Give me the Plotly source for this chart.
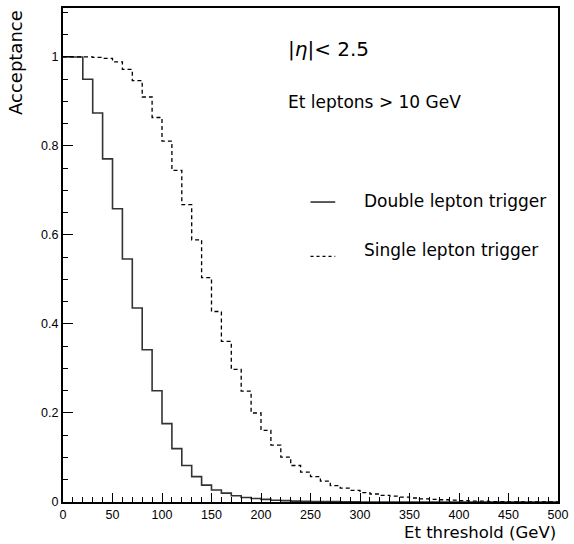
import plotly.graph_objects as go

# Bin edges (GeV) and per-bin acceptance values
bin_edges = list(range(0, 510, 10))
double_lepton = [1.0, 1.0, 0.950, 0.874, 0.771, 0.659, 0.546, 0.436, 0.342, 0.250,
                 0.176, 0.120, 0.082, 0.057, 0.038, 0.027, 0.020, 0.014, 0.010, 0.008,
                 0.006, 0.004, 0.003, 0.002, 0.0015, 0.001, 0.001, 0.0008, 0.0005, 0.0003,
                 0, 0, 0, 0, 0, 0, 0, 0, 0, 0,
                 0, 0, 0, 0, 0, 0, 0, 0, 0, 0]
single_lepton = [1.0, 1.0, 1.0, 0.999, 0.997, 0.989, 0.972, 0.947, 0.910, 0.864,
                 0.811, 0.745, 0.668, 0.589, 0.504, 0.428, 0.361, 0.298, 0.249, 0.200,
                 0.161, 0.128, 0.101, 0.082, 0.067, 0.057, 0.047, 0.037, 0.031, 0.026,
                 0.021, 0.018, 0.015, 0.013, 0.011, 0.009, 0.007, 0.006, 0.005, 0.004,
                 0.003, 0.002, 0.002, 0.001, 0.001, 0.0005, 0, 0, 0, 0]

TICKFONT = "Liberation Sans"
TEXTFONT = "DejaVu Sans"

fig = go.Figure()
fig.add_trace(go.Scatter(x=bin_edges, y=double_lepton + [double_lepton[-1]],
                         mode="lines", line=dict(shape="hv", color="#333", width=1.6),
                         showlegend=False))
fig.add_trace(go.Scatter(x=bin_edges, y=single_lepton + [single_lepton[-1]],
                         mode="lines", line=dict(shape="hv", color="black", width=1.3, dash="4px,3px"),
                         showlegend=False))

axis_common = dict(showgrid=False, zeroline=False, showline=True, linecolor="black",
                   linewidth=2, mirror=True, ticks="inside", tickcolor="black",
                   tickwidth=1, tickfont=dict(family=TICKFONT, size=12.5, color="black"))

fig.update_xaxes(range=[0, 500], dtick=50, tick0=0, ticklen=9,
                 minor=dict(dtick=10, ticks="inside", ticklen=5, tickcolor="black"),
                 **axis_common)
fig.update_yaxes(range=[0, 1.11], dtick=0.2, tick0=0, ticklen=10,
                 minor=dict(dtick=0.05, ticks="inside", ticklen=5, tickcolor="black"),
                 **axis_common)

annots = [
    dict(x=225, y=1.018, text="|<i>η</i>|< 2.5", size=20),
    dict(x=225, y=0.898, text="Et leptons > 10 GeV", size=17),
    dict(x=302, y=0.677, text="Double lepton trigger", size=17),
    dict(x=302, y=0.567, text="Single lepton trigger", size=17),
]
for a in annots:
    fig.add_annotation(x=a["x"], y=a["y"], xref="x", yref="y", text=a["text"],
                       showarrow=False, xanchor="left", yanchor="middle",
                       font=dict(family=TEXTFONT, size=a["size"], color="black"))

# legend samples
fig.add_shape(type="line", xref="x", yref="y", x0=250, x1=275, y0=0.674, y1=0.674,
              line=dict(color="#333", width=1.6))
fig.add_shape(type="line", xref="x", yref="y", x0=250, x1=275, y0=0.552, y1=0.552,
              line=dict(color="black", width=1.3, dash="3px,3px"))

# axis titles
fig.add_annotation(x=-0.096, y=1.0, xref="paper", yref="paper", text="Acceptance",
                   showarrow=False, textangle=-90, xanchor="center", yanchor="top",
                   font=dict(family=TEXTFONT, size=18, color="black"))
fig.add_annotation(x=1.0, y=-0.0847, xref="paper", yref="paper", text="Et threshold (GeV)",
                   showarrow=False, xanchor="right", yanchor="bottom",
                   font=dict(family=TEXTFONT, size=16.5, color="black"))

fig.update_layout(width=574, height=544, margin=dict(l=63, r=11, t=6, b=42),
                  plot_bgcolor="white", paper_bgcolor="white", showlegend=False)

fig.write_html("out.html")
